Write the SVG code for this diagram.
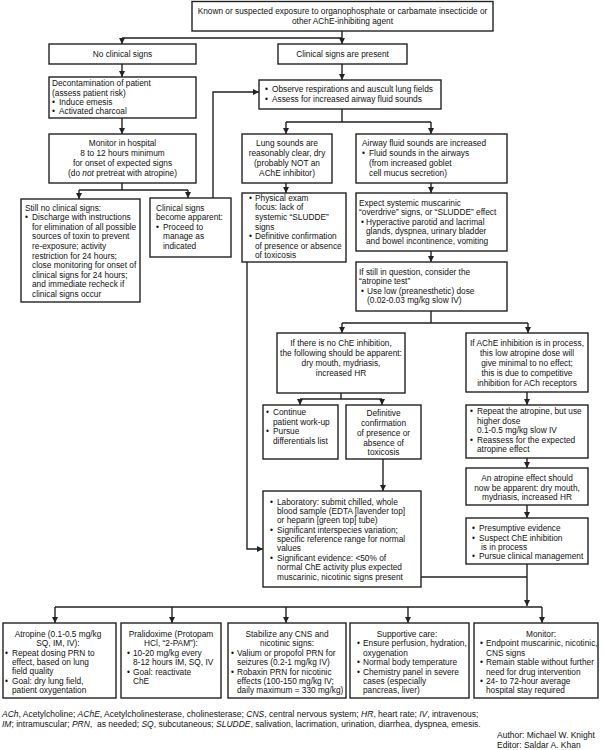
<svg xmlns="http://www.w3.org/2000/svg" width="604" height="750" viewBox="0 0 604 750">
<style>
.b{fill:#fff;stroke:#222;stroke-width:1.4}
text{font-family:"Liberation Sans",Arial,sans-serif;font-size:8.3px;fill:#111}
.m{text-anchor:middle}
.c{fill:none;stroke:#222;stroke-width:1.4}
.a{fill:none;stroke:#222;stroke-width:1.4;marker-end:url(#ah)}
.f{font-size:8.5px}
</style>
<defs>
<marker id="ah" markerUnits="userSpaceOnUse" markerWidth="6" markerHeight="6" viewBox="0 0 6 6" refX="6" refY="3" orient="auto">
<path d="M0,0 L6,3 L0,6 Z" fill="#222"/>
</marker>
</defs>
<rect width="604" height="750" fill="#fff"/>
<g id="connectors">
<path class="c" d="M342,31 V38 M122,38 H342"/>
<path class="a" d="M122,38 V44"/>
<path class="a" d="M342,38 V44"/>
<path class="a" d="M122,64 V77"/>
<path class="a" d="M122,118 V134"/>
<path class="c" d="M122,183 V190 M79,190 H188"/>
<path class="a" d="M79,190 V199"/>
<path class="a" d="M188,190 V198"/>
<path class="a" d="M213,198 V92 H259"/>
<path class="a" d="M342,64 V80"/>
<path class="c" d="M342,109 V122 M286,122 H431"/>
<path class="a" d="M286,122 V134"/>
<path class="a" d="M431,122 V134"/>
<path class="a" d="M286,183 V193"/>
<path class="a" d="M431,183 V193"/>
<path class="a" d="M431,251 V262"/>
<path class="c" d="M431,311 V323 M342,323 H528"/>
<path class="a" d="M342,323 V333"/>
<path class="a" d="M528,323 V333"/>
<path class="c" d="M341,393 V399 M300,399 H382"/>
<path class="a" d="M300,399 V405"/>
<path class="a" d="M382,399 V405"/>
<path class="a" d="M527,392 V405"/>
<path class="a" d="M527,458 V468"/>
<path class="a" d="M527,505 V518"/>
<path class="a" d="M383,459 V491"/>
<path class="a" d="M247,262 V549 H263"/>
<path class="c" d="M421,577 H527"/>
<path class="a" d="M527,564 V606"/>
<path class="c" d="M55,607 H542"/>
<path class="a" d="M55,607 V623"/>
<path class="a" d="M172,607 V623"/>
<path class="a" d="M286,607 V623"/>
<path class="a" d="M408,607 V623"/>
<path class="a" d="M542,607 V623"/>
</g>
<g id="n-exposure">
<rect class="b" x="192" y="1.5" width="301" height="29.5"/>
<text class="m" x="342.5" y="14">Known or suspected exposure to organophosphate or carbamate insecticide or</text>
<text class="m" x="342.5" y="24">other AChE-inhibiting agent</text>
</g>
<g id="n-noclin">
<rect class="b" x="49" y="44" width="147" height="20"/>
<text class="m" x="122.5" y="57">No clinical signs</text>
</g>
<g id="n-clinpresent">
<rect class="b" x="278" y="44" width="129" height="20"/>
<text class="m" x="342.5" y="57">Clinical signs are present</text>
</g>
<g id="n-decon">
<rect class="b" x="49" y="77" width="147" height="41"/>
<text x="52" y="86">Decontamination of patient</text>
<text x="52" y="96">(assess patient risk)</text>
<text x="52" y="105">•</text><text x="59" y="105">Induce emesis</text>
<text x="52" y="114">•</text><text x="59" y="114">Activated charcoal</text>
</g>
<g id="n-monitor">
<rect class="b" x="49" y="134" width="147" height="49"/>
<text class="m" x="122.5" y="146">Monitor in hospital</text>
<text class="m" x="122.5" y="156">8 to 12 hours minimum</text>
<text class="m" x="122.5" y="166">for onset of expected signs</text>
<text class="m" x="122.5" y="176">(do <tspan font-style="italic">not</tspan> pretreat with atropine)</text>
</g>
<g id="n-stillno">
<rect class="b" x="21" y="199" width="119" height="103"/>
<text x="25" y="211">Still no clinical signs:</text>
<text x="25" y="220">•</text><text x="32" y="220">Discharge with instructions</text>
<text x="32" y="230">for elimination of all possible</text>
<text x="32" y="239">sources of toxin to prevent</text>
<text x="32" y="249">re-exposure; activity</text>
<text x="32" y="259">restriction for 24 hours;</text>
<text x="32" y="268">close monitoring for onset of</text>
<text x="32" y="278">clinical signs for 24 hours;</text>
<text x="32" y="287">and immediate recheck if</text>
<text x="32" y="297">clinical signs occur</text>
</g>
<g id="n-apparent">
<rect class="b" x="150" y="198" width="81" height="59"/>
<text x="156" y="211">Clinical signs</text>
<text x="156" y="220">become apparent:</text>
<text x="156" y="230">•</text><text x="163" y="230">Proceed to</text>
<text x="163" y="239">manage as</text>
<text x="163" y="249">indicated</text>
</g>
<g id="n-observe">
<rect class="b" x="259" y="80" width="182" height="29"/>
<text x="265" y="92">•</text><text x="272" y="92">Observe respirations and auscult lung fields</text>
<text x="265" y="102">•</text><text x="272" y="102">Assess for increased airway fluid sounds</text>
</g>
<g id="n-lungclear">
<rect class="b" x="242" y="134" width="90" height="49"/>
<text class="m" x="287" y="146">Lung sounds are</text>
<text class="m" x="287" y="156">reasonably clear, dry</text>
<text class="m" x="287" y="166">(probably NOT an</text>
<text class="m" x="287" y="176">AChE inhibitor)</text>
</g>
<g id="n-airway">
<rect class="b" x="356" y="134" width="151" height="49"/>
<text x="362" y="146">Airway fluid sounds are increased</text>
<text x="362" y="156">•</text><text x="369" y="156">Fluid sounds in the airways</text>
<text x="369" y="166">(from increased goblet</text>
<text x="369" y="176">cell mucus secretion)</text>
</g>
<g id="n-physical">
<rect class="b" x="242" y="193" width="104" height="69"/>
<text x="249" y="201">•</text><text x="255" y="201">Physical exam</text>
<text x="255" y="210">focus: lack of</text>
<text x="255" y="220">systemic “SLUDDE”</text>
<text x="255" y="230">signs</text>
<text x="249" y="239">•</text><text x="255" y="239">Definitive confirmation</text>
<text x="255" y="249">of presence or absence</text>
<text x="255" y="258">of toxicosis</text>
</g>
<g id="n-expect">
<rect class="b" x="356" y="193" width="151" height="58"/>
<text x="359" y="206">Expect systemic muscarinic</text>
<text x="359" y="215">“overdrive” signs, or “SLUDDE” effect</text>
<text x="361" y="225">•</text><text x="366" y="225">Hyperactive parotid and lacrimal</text>
<text x="366" y="234">glands, dyspnea, urinary bladder</text>
<text x="366" y="244">and bowel incontinence, vomiting</text>
</g>
<g id="n-ifstill">
<rect class="b" x="356" y="262" width="151" height="49"/>
<text x="359" y="275">If still in question, consider the</text>
<text x="359" y="284">“atropine test”</text>
<text x="361" y="294">•</text><text x="367" y="294">Use low (preanesthetic) dose</text>
<text x="367" y="303">(0.02-0.03 mg/kg slow IV)</text>
</g>
<g id="n-noche">
<rect class="b" x="277" y="333" width="128" height="60"/>
<text class="m" x="341" y="346">If there is no ChE inhibition,</text>
<text class="m" x="341" y="356">the following should be apparent:</text>
<text class="m" x="341" y="366">dry mouth, mydriasis,</text>
<text class="m" x="341" y="376">increased HR</text>
</g>
<g id="n-ache">
<rect class="b" x="466" y="333" width="122" height="59"/>
<text class="m" x="527" y="346">If AChE inhibition is in process,</text>
<text class="m" x="527" y="356">this low atropine dose will</text>
<text class="m" x="527" y="366">give minimal to no effect;</text>
<text class="m" x="527" y="376">this is due to competitive</text>
<text class="m" x="527" y="386">inhibition for ACh receptors</text>
</g>
<g id="n-continue">
<rect class="b" x="263" y="405" width="75" height="54"/>
<text x="266" y="415">•</text><text x="273" y="415">Continue</text>
<text x="273" y="425">patient work-up</text>
<text x="266" y="434">•</text><text x="273" y="434">Pursue</text>
<text x="273" y="444">differentials list</text>
</g>
<g id="n-definitive">
<rect class="b" x="346" y="405" width="75" height="54"/>
<text class="m" x="383.5" y="416">Definitive</text>
<text class="m" x="383.5" y="426">confirmation</text>
<text class="m" x="383.5" y="436">of presence or</text>
<text class="m" x="383.5" y="446">absence of</text>
<text class="m" x="383.5" y="455">toxicosis</text>
</g>
<g id="n-repeat">
<rect class="b" x="466" y="405" width="122" height="53"/>
<text x="470" y="414">•</text><text x="477" y="414">Repeat the atropine, but use</text>
<text x="477" y="423.5">higher dose</text>
<text x="477" y="433">0.1-0.5 mg/kg slow IV</text>
<text x="470" y="442.5">•</text><text x="477" y="442.5">Reassess for the expected</text>
<text x="477" y="452">atropine effect</text>
</g>
<g id="n-effect">
<rect class="b" x="466" y="468" width="122" height="37"/>
<text class="m" x="527" y="481">An atropine effect should</text>
<text class="m" x="527" y="491">now be apparent: dry mouth,</text>
<text class="m" x="527" y="500">mydriasis, increased HR</text>
</g>
<g id="n-presumptive">
<rect class="b" x="466" y="518" width="122" height="46"/>
<text x="472" y="531">•</text><text x="479" y="531">Presumptive evidence</text>
<text x="472" y="541">•</text><text x="479" y="541">Suspect ChE inhibition</text>
<text x="481" y="550">is in process</text>
<text x="472" y="559">•</text><text x="479" y="559">Pursue clinical management</text>
</g>
<g id="n-lab">
<rect class="b" x="263" y="491" width="158" height="96"/>
<text x="270" y="505">•</text><text x="277" y="505">Laboratory: submit chilled, whole</text>
<text x="277" y="514">blood sample (EDTA [lavender top]</text>
<text x="277" y="523">or heparin [green top] tube)</text>
<text x="270" y="533">•</text><text x="277" y="533">Significant interspecies variation;</text>
<text x="277" y="542">specific reference range for normal</text>
<text x="277" y="551">values</text>
<text x="270" y="561">•</text><text x="277" y="561">Significant evidence: &lt;50% of</text>
<text x="277" y="570">normal ChE activity plus expected</text>
<text x="277" y="580">muscarinic, nicotinic signs present</text>
</g>
<g id="n-atropine">
<rect class="b" x="3" y="623" width="113" height="75"/>
<text class="m" x="58" y="637">Atropine (0.1-0.5 mg/kg</text>
<text class="m" x="58" y="646">SQ, IM, IV):</text>
<text x="5" y="656">•</text><text x="12" y="656">Repeat dosing PRN to</text>
<text x="12" y="665">effect, based on lung</text>
<text x="12" y="674">field quality</text>
<text x="5" y="684">•</text><text x="12" y="684">Goal: dry lung field,</text>
<text x="12" y="693">patient oxygentation</text>
</g>
<g id="n-pralidoxime">
<rect class="b" x="121" y="623" width="100" height="75"/>
<text class="m" x="171" y="637">Pralidoxime (Protopam</text>
<text class="m" x="171" y="646">HCl, “2-PAM”):</text>
<text x="127" y="656">•</text><text x="133" y="656">10-20 mg/kg every</text>
<text x="133" y="665">8-12 hours IM, SQ, IV</text>
<text x="127" y="675">•</text><text x="133" y="675">Goal: reactivate</text>
<text x="133" y="684">ChE</text>
</g>
<g id="n-stabilize">
<rect class="b" x="228" y="623" width="118" height="75"/>
<text class="m" x="287" y="637">Stabilize any CNS and</text>
<text class="m" x="287" y="646">nicotinic signs:</text>
<text x="231" y="656">•</text><text x="237" y="656">Valium or propofol PRN for</text>
<text x="237" y="665">seizures (0.2-1 mg/kg IV)</text>
<text x="231" y="675">•</text><text x="237" y="675">Robaxin PRN for nicotinic</text>
<text x="237" y="684">effects (100-150 mg/kg IV;</text>
<text x="237" y="693">daily maximum = 330 mg/kg)</text>
</g>
<g id="n-supportive">
<rect class="b" x="350" y="623" width="119" height="75"/>
<text class="m" x="407" y="637">Supportive care:</text>
<text x="357" y="646">•</text><text x="363" y="646">Ensure perfusion, hydration,</text>
<text x="363" y="656">oxygenation</text>
<text x="357" y="665">•</text><text x="363" y="665">Normal body temperature</text>
<text x="357" y="675">•</text><text x="363" y="675">Chemistry panel in severe</text>
<text x="363" y="684">cases (especially</text>
<text x="363" y="693">pancreas, liver)</text>
</g>
<g id="n-monitor2">
<rect class="b" x="474" y="623" width="124" height="75"/>
<text class="m" x="541" y="637">Monitor:</text>
<text x="480" y="646">•</text><text x="486" y="646">Endpoint muscarinic, nicotinic,</text>
<text x="486" y="656">CNS signs</text>
<text x="480" y="665">•</text><text x="486" y="665">Remain stable without further</text>
<text x="486" y="675">need for drug intervention</text>
<text x="480" y="684">•</text><text x="486" y="684">24- to 72-hour average</text>
<text x="486" y="693">hospital stay required</text>
</g>
<g id="footer">
<text class="f" x="2" y="717"><tspan font-style="italic">ACh</tspan>, Acetylcholine; <tspan font-style="italic">AChE</tspan>, Acetylcholinesterase, cholinesterase; <tspan font-style="italic">CNS</tspan>, central nervous system; <tspan font-style="italic">HR</tspan>, heart rate; <tspan font-style="italic">IV</tspan>, intravenous;</text>
<text class="f" x="2" y="727" xml:space="preserve"><tspan font-style="italic">IM</tspan>; intramuscular; <tspan font-style="italic">PRN</tspan>,  as needed; <tspan font-style="italic">SQ</tspan>, subcutaneous; <tspan font-style="italic">SLUDDE</tspan>, salivation, lacrimation, urination, diarrhea, dyspnea, emesis.</text>
<text class="f" x="497" y="738">Author: Michael W. Knight</text>
<text class="f" x="497" y="748">Editor: Saldar A. Khan</text>
</g>
</svg>
